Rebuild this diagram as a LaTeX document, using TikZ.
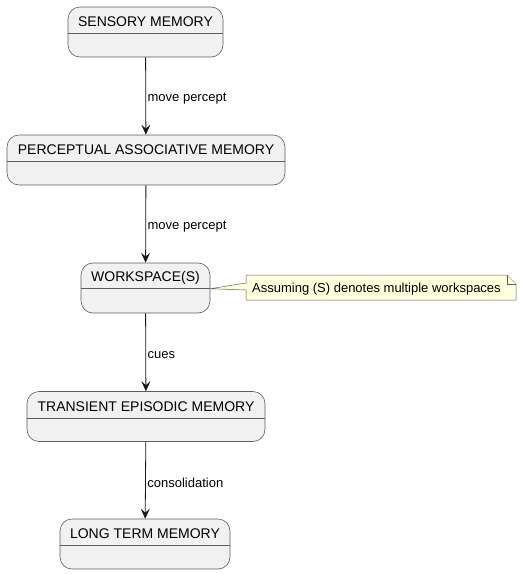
\documentclass[tikz,border=0pt]{standalone}
\usepackage{fontspec}
\setmainfont{Liberation Sans}
\usepackage{xcolor}
\usetikzlibrary{arrows.meta,positioning}

\definecolor{statefill}{HTML}{F1F1F1}
\definecolor{stateline}{HTML}{181818}
\definecolor{notefill}{HTML}{FEFFDD}

\begin{document}
\begin{tikzpicture}[x=1pt, y=-1pt,
    state/.style={rectangle, rounded corners=12pt, draw=stateline!70, fill=statefill, line width=0.6pt, minimum height=50pt, inner sep=0pt},
    title/.style={font=\fontsize{14}{16}\selectfont, inner sep=0pt},
    divider/.style={draw=stateline!70, line width=0.6pt},
    arrow/.style={-{Stealth[length=10pt, width=9pt, inset=4pt]}, line width=0.8pt, draw=stateline},
    edgelabel/.style={right, yshift=-3pt, font=\fontsize{13}{15}\selectfont, inner sep=1.5pt},
    note/.style={draw=stateline!70, fill=notefill, line width=0.5pt}
]
\useasboundingbox (0,0) rectangle (521,574);

% States
\node[state, minimum width=155pt] (sensory) at (145.5, 32) {};
\node[title] at ([yshift=-15pt]sensory.north) {SENSORY MEMORY};
\draw[divider] ([yshift=-27pt]sensory.north west) -- ([yshift=-27pt]sensory.north east);

\node[state, minimum width=278pt] (pam) at (146, 160) {};
\node[title] at ([yshift=-15pt]pam.north) {PERCEPTUAL ASSOCIATIVE MEMORY};
\draw[divider] ([yshift=-27pt]pam.north west) -- ([yshift=-27pt]pam.north east);

\node[state, minimum width=129pt] (workspace) at (145.5, 288) {};
\node[title] at ([yshift=-15pt]workspace.north) {WORKSPACE(S)};
\draw[divider] ([yshift=-26pt]workspace.north west) -- ([yshift=-26pt]workspace.north east);

\node[state, minimum width=238pt] (episodic) at (146, 416.5) {};
\node[title] at ([yshift=-15pt]episodic.north) {TRANSIENT EPISODIC MEMORY};
\draw[divider] ([yshift=-27pt]episodic.north west) -- ([yshift=-27pt]episodic.north east);

\node[state, minimum width=170pt] (longterm) at (145, 544) {};
\node[title] at ([yshift=-15pt]longterm.north) {LONG TERM MEMORY};
\draw[divider] ([yshift=-27pt]longterm.north west) -- ([yshift=-27pt]longterm.north east);

% Transitions
\draw[arrow] (sensory) -- (pam) node[edgelabel, midway] {move percept};
\draw[arrow] (pam) -- (workspace) node[edgelabel, midway] {move percept};
\draw[arrow] (workspace) -- (episodic) node[edgelabel, midway] {cues};
\draw[arrow] (episodic) -- (longterm) node[edgelabel, midway] {consolidation};

% Note
\coordinate (tip) at ([yshift=-26pt]workspace.north east);
\draw[note] (246,275) -- (507,275) -- (516,284) -- (516,300) -- (246,300)
    -- (246,290) -- (tip) -- (246,283) -- cycle;
\draw[note] (507,275) -- (507,284) -- (516,284);
\node[font=\fontsize{13}{15}\selectfont, inner sep=0pt, anchor=west] (assume) at (252,289) {Assuming (S) denotes multiple workspaces};

\end{tikzpicture}
\end{document}
